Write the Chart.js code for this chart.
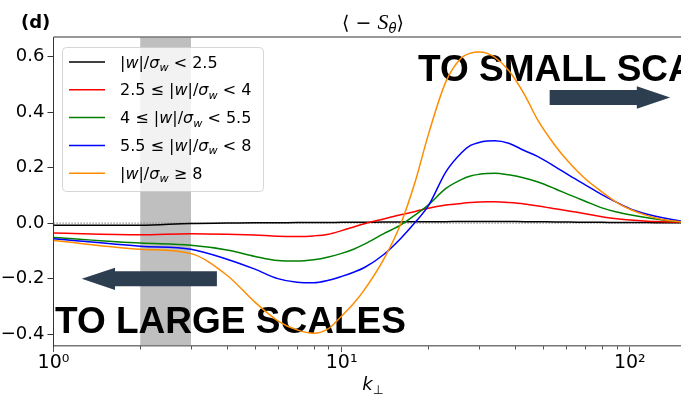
<!DOCTYPE html>
<html>
<head>
<meta charset="utf-8">
<script src="https://cdn.jsdelivr.net/npm/chart.js@4/dist/chart.umd.min.js"></script>
<style>
  html, body { margin: 0; padding: 0; overflow: hidden; background: #fff; }
  #wrap { width: 700px; height: 398px; }
</style>
</head>
<body>
<div id="wrap"><canvas id="c" width="700" height="398"></canvas></div>
<script>
// perpendicular wavenumber samples
const kPerp = [1, 2, 3, 4, 5, 6, 7, 8, 9, 10, 11, 12, 14, 16, 18, 20, 23, 26, 28, 30, 32, 34, 38, 43, 48, 55, 62, 70, 80, 90, 100, 115, 130, 150, 165];

// <-S_theta> conditioned on |w|/sigma_w bins
const binBelow25 = [-0.008, -0.008, -0.001, 0.000, 0.001, 0.001, 0.002, 0.002, 0.002, 0.003, 0.003, 0.003, 0.004, 0.004, 0.005, 0.005, 0.005, 0.006, 0.006, 0.006, 0.006, 0.006, 0.006, 0.005, 0.005, 0.004, 0.004, 0.003, 0.003, 0.002, 0.002, 0.002, 0.001, 0.001, 0.001];
const bin25to4 = [-0.036, -0.042, -0.038, -0.040, -0.043, -0.047, -0.048, -0.046, -0.040, -0.027, -0.014, -0.002, 0.015, 0.030, 0.042, 0.054, 0.065, 0.071, 0.074, 0.076, 0.077, 0.077, 0.074, 0.069, 0.062, 0.052, 0.043, 0.034, 0.023, 0.016, 0.011, 0.007, 0.005, 0.003, 0.002];
const bin4to55 = [-0.052, -0.072, -0.080, -0.097, -0.120, -0.135, -0.137, -0.132, -0.122, -0.109, -0.094, -0.076, -0.038, -0.007, 0.030, 0.066, 0.125, 0.157, 0.170, 0.176, 0.179, 0.180, 0.174, 0.163, 0.148, 0.124, 0.101, 0.079, 0.055, 0.040, 0.030, 0.019, 0.011, 0.005, 0.003];
const bin55to8 = [-0.056, -0.083, -0.094, -0.130, -0.166, -0.200, -0.213, -0.215, -0.206, -0.192, -0.177, -0.160, -0.113, -0.056, 0.003, 0.063, 0.185, 0.253, 0.280, 0.291, 0.296, 0.297, 0.288, 0.262, 0.240, 0.204, 0.170, 0.138, 0.103, 0.075, 0.052, 0.032, 0.019, 0.008, 0.004];
const binAbove8 = [-0.063, -0.094, -0.110, -0.188, -0.285, -0.352, -0.385, -0.397, -0.380, -0.335, -0.290, -0.240, -0.130, -0.005, 0.150, 0.320, 0.510, 0.595, 0.613, 0.617, 0.612, 0.598, 0.550, 0.465, 0.370, 0.280, 0.215, 0.160, 0.113, 0.075, 0.050, 0.027, 0.013, 0.005, 0.002];

// axis ticks
const yTickValues = [-0.4, -0.2, 0.0, 0.2, 0.4, 0.6];
const xTickValues = [1, 10, 100];
const xMinorTickValues = [2, 3, 4, 5, 6, 7, 8, 9, 20, 30, 40, 50, 60, 70, 80, 90];
const superDigits = ['⁰', '¹', '²', '³'];

// shaded wavenumber band
const shadedBand = [2, 3];

// legend entries as (text, style) runs: r = upright, i = italic, s = italic subscript
const legendEntries = [
  [['|', 'r'], ['w', 'i'], ['|/', 'r'], ['σ', 'i'], ['w', 's'], [' < 2.5', 'r']],
  [['2.5 ≤ |', 'r'], ['w', 'i'], ['|/', 'r'], ['σ', 'i'], ['w', 's'], [' < 4', 'r']],
  [['4 ≤ |', 'r'], ['w', 'i'], ['|/', 'r'], ['σ', 'i'], ['w', 's'], [' < 5.5', 'r']],
  [['5.5 ≤ |', 'r'], ['w', 'i'], ['|/', 'r'], ['σ', 'i'], ['w', 's'], [' < 8', 'r']],
  [['|', 'r'], ['w', 'i'], ['|/', 'r'], ['σ', 'i'], ['w', 's'], [' ≥ 8', 'r']]
];
const seriesColors = ['#000000', '#ff0000', '#008000', '#0000ff', '#ff8c00'];
const seriesValues = [binBelow25, bin25to4, bin4to55, bin55to8, binAbove8];

const titleRuns = [['⟨ − ', 'r'], ['S', 'c'], ['θ', 's'], ['⟩', 'r']];
const xTitleRuns = [['k', 'i'], ['⊥', 'sr']];
const panelTag = '(d)';

// annotation anchors in data coordinates
const toLargeText = { text: 'TO LARGE SCALES', k: 1.012, v: -0.396 };
const toSmallText = { text: 'TO SMALL SCALES', k: 18.4, v: 0.512 };
const leftArrow = { kTail: 3.69, kTip: 1.253, v: -0.201 };
const rightArrow = { kTail: 52.7, kTip: 138, v: 0.453 };

function runFont(style, size) {
  if (style === 'i') return 'italic ' + size + 'px "DejaVu Sans"';
  if (style === 's') return 'italic ' + (size * 0.7) + 'px "DejaVu Sans"';
  if (style === 'sr') return (size * 0.7) + 'px "DejaVu Sans"';
  if (style === 'c') return 'italic ' + (size * 1.15) + 'px "Liberation Serif"';
  return size + 'px "DejaVu Sans"';
}
function runsWidth(ctx, runs, size) {
  let w = 0;
  for (const [t, s] of runs) { ctx.font = runFont(s, size); w += ctx.measureText(t).width; }
  return w;
}
function drawRuns(ctx, runs, x, y, size) {
  ctx.textBaseline = 'alphabetic';
  ctx.textAlign = 'left';
  for (const [t, s] of runs) {
    ctx.font = runFont(s, size);
    const dy = (s === 's' || s === 'sr') ? size * 0.22 : 0;
    ctx.fillText(t, x, y + dy);
    x += ctx.measureText(t).width;
  }
}
function drawArrow(ctx, xTail, xTip, yc, bodyW, headW, headL) {
  const dir = Math.sign(xTip - xTail);
  const xBase = xTip - dir * headL;
  ctx.beginPath();
  ctx.moveTo(xTail, yc - bodyW / 2);
  ctx.lineTo(xBase, yc - bodyW / 2);
  ctx.lineTo(xBase, yc - headW / 2);
  ctx.lineTo(xTip, yc);
  ctx.lineTo(xBase, yc + headW / 2);
  ctx.lineTo(xBase, yc + bodyW / 2);
  ctx.lineTo(xTail, yc + bodyW / 2);
  ctx.closePath();
  ctx.fill();
}

const decorations = {
  id: 'decorations',
  beforeDatasetsDraw(chart) {
    const { ctx, chartArea: a, scales: { x, y } } = chart;
    ctx.save();
    ctx.beginPath();
    ctx.rect(a.left, a.top, a.right - a.left, a.bottom - a.top);
    ctx.clip();
    const b0 = x.getPixelForValue(shadedBand[0]);
    const b1 = x.getPixelForValue(shadedBand[1]);
    ctx.fillStyle = 'rgba(128,128,128,0.5)';
    ctx.fillRect(b0, a.top, b1 - b0, a.bottom - a.top);
    const y0 = y.getPixelForValue(0);
    ctx.strokeStyle = '#808080';
    ctx.lineWidth = 1.2;
    ctx.setLineDash([1.2, 1.8]);
    ctx.beginPath();
    ctx.moveTo(a.left, y0);
    ctx.lineTo(a.right, y0);
    ctx.stroke();
    ctx.restore();

    ctx.save();
    ctx.fillStyle = '#2c3e50';
    drawArrow(ctx, x.getPixelForValue(leftArrow.kTail), x.getPixelForValue(leftArrow.kTip),
      y.getPixelForValue(leftArrow.v), 15, 22.4, 33.3);
    drawArrow(ctx, x.getPixelForValue(rightArrow.kTail), x.getPixelForValue(rightArrow.kTip),
      y.getPixelForValue(rightArrow.v), 15, 22.4, 33.3);
    ctx.fillStyle = '#000';
    ctx.font = 'bold 37px "Liberation Sans"';
    ctx.textAlign = 'left';
    ctx.textBaseline = 'alphabetic';
    for (const t of [toLargeText, toSmallText]) {
      ctx.fillText(t.text, x.getPixelForValue(t.k), y.getPixelForValue(t.v));
    }
    ctx.restore();
  },
  afterDatasetsDraw(chart) {
    const { ctx, chartArea: a, scales: { x } } = chart;
    ctx.save();
    // top and right spines
    ctx.strokeStyle = '#777';
    ctx.lineWidth = 1.4;
    ctx.beginPath();
    ctx.moveTo(a.left, a.top);
    ctx.lineTo(a.right, a.top);
    ctx.lineTo(a.right, a.bottom);
    ctx.stroke();
    // minor ticks on the log axis
    ctx.strokeStyle = '#555';
    ctx.lineWidth = 1;
    for (const v of xMinorTickValues) {
      const px = Math.round(x.getPixelForValue(v)) + 0.5;
      ctx.beginPath();
      ctx.moveTo(px, a.bottom);
      ctx.lineTo(px, a.bottom + 3.5);
      ctx.stroke();
    }
    // legend box
    const lx = 62.5, ly = 47.5, lw = 201, lh = 144, r = 4;
    ctx.beginPath();
    ctx.moveTo(lx + r, ly);
    ctx.arcTo(lx + lw, ly, lx + lw, ly + lh, r);
    ctx.arcTo(lx + lw, ly + lh, lx, ly + lh, r);
    ctx.arcTo(lx, ly + lh, lx, ly, r);
    ctx.arcTo(lx, ly, lx + lw, ly, r);
    ctx.closePath();
    ctx.fillStyle = 'rgba(255,255,255,0.8)';
    ctx.fill();
    ctx.strokeStyle = 'rgba(204,204,204,0.8)';
    ctx.lineWidth = 1;
    ctx.stroke();
    legendEntries.forEach((runs, i) => {
      const cy = 62 + i * 27.8;
      ctx.strokeStyle = seriesColors[i];
      ctx.lineWidth = 1.5;
      ctx.beginPath();
      ctx.moveTo(69, cy);
      ctx.lineTo(105, cy);
      ctx.stroke();
      ctx.fillStyle = '#000';
      drawRuns(ctx, runs, 120, cy + 5.5, 16);
    });
    // title, panel tag, axis title
    ctx.fillStyle = '#000';
    const tw = runsWidth(ctx, titleRuns, 19);
    drawRuns(ctx, titleRuns, (a.left + a.right) / 2 - tw / 2, 29, 19);
    ctx.font = 'bold 18px "DejaVu Sans"';
    ctx.textAlign = 'left';
    ctx.fillText(panelTag, 21, 28);
    const xw = runsWidth(ctx, xTitleRuns, 18);
    drawRuns(ctx, xTitleRuns, (a.left + a.right) / 2 - xw / 2, 390, 18);
    ctx.restore();
  }
};

const datasets = seriesValues.map((vals, i) => ({
  label: 'bin' + i,
  data: kPerp.map((k, j) => ({ x: k, y: vals[j] })),
  borderColor: seriesColors[i],
  borderWidth: 1.5,
  pointRadius: 0,
  fill: false,
  cubicInterpolationMode: 'monotone',
  order: seriesValues.length - i
}));

new Chart(document.getElementById('c'), {
  type: 'line',
  data: { datasets },
  plugins: [decorations],
  options: {
    responsive: false,
    animation: false,
    events: [],
    layout: { padding: { left: 0, top: 37, right: 7.5, bottom: 0 } },
    plugins: { legend: { display: false }, tooltip: { enabled: false }, title: { display: false } },
    scales: {
      x: {
        type: 'logarithmic',
        min: 1,
        max: 165,
        afterFit: s => { s.height = 52; },
        afterBuildTicks: s => { s.ticks = xTickValues.map(v => ({ value: v })); },
        grid: { drawOnChartArea: false, drawTicks: true, tickLength: 6, color: '#555' },
        border: { display: true, color: '#777', width: 1.6 },
        ticks: {
          autoSkip: false,
          maxRotation: 0,
          padding: 0,
          color: '#000',
          font: { family: 'DejaVu Sans', size: 19 },
          callback: v => '10' + superDigits[Math.round(Math.log10(v))]
        }
      },
      y: {
        min: -0.443,
        max: 0.671,
        afterFit: s => { s.width = 53.5; },
        afterBuildTicks: s => { s.ticks = yTickValues.map(v => ({ value: v })); },
        grid: { drawOnChartArea: false, drawTicks: true, tickLength: 6, color: '#333' },
        border: { display: true, color: '#333', width: 1 },
        ticks: {
          padding: 3,
          color: '#000',
          font: { family: 'DejaVu Sans', size: 18 },
          callback: v => (v < -1e-9 ? '−' : '') + Math.abs(v).toFixed(1)
        }
      }
    }
  }
});
</script>
</body>
</html>
